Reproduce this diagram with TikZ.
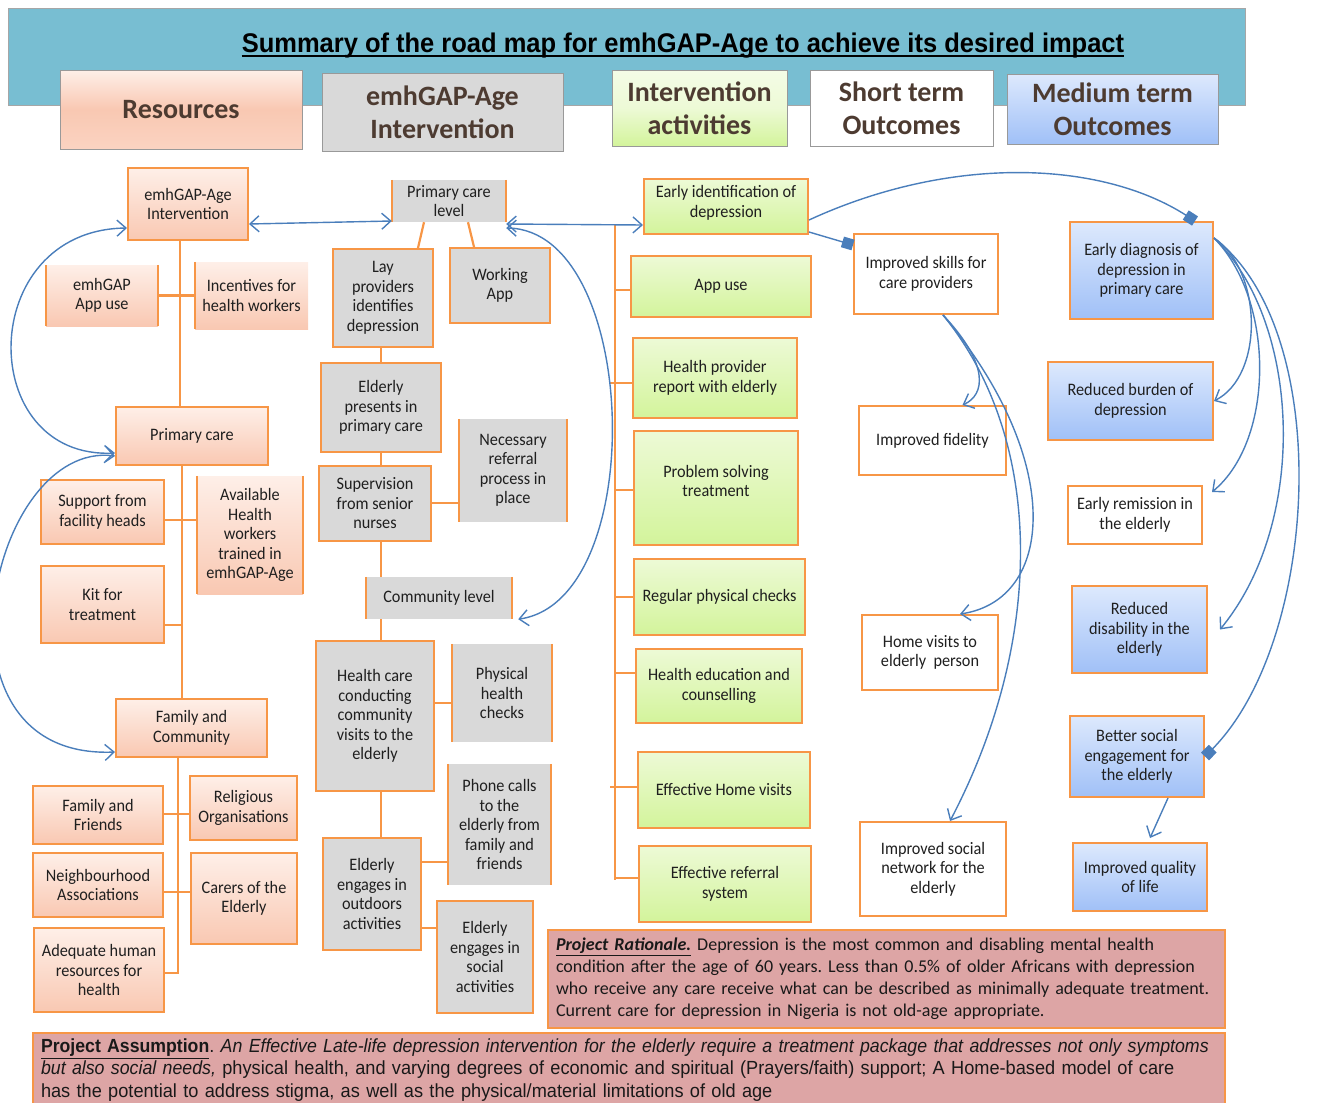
\documentclass[tikz,border=0pt]{standalone}
\usepackage{fontspec}
\setmainfont{Carlito}[FakeStretch=0.93]
\newfontfamily\hdfont{Carlito}
\newfontfamily\ttlfont{Liberation Sans}[FakeStretch=0.944]
\newfontfamily\nrwfont{Liberation Sans}[FakeStretch=0.957, ItalicFeatures={FakeStretch=0.935}, BoldFeatures={FakeStretch=0.93}]
\newfontfamily\ratfont{Carlito}
\usetikzlibrary{arrows.meta,calc}
\frenchspacing
\definecolor{org}{HTML}{F79646}
\definecolor{abl}{HTML}{4A7EBB}
\definecolor{hdblue}{HTML}{78BED2}
\definecolor{salT}{HTML}{FEEFE8}
\definecolor{salB}{HTML}{F9C8B2}
\definecolor{gryF}{HTML}{D9D9D9}
\definecolor{grnT}{HTML}{EDFAD6}
\definecolor{grnB}{HTML}{D3F49B}
\definecolor{bluT}{HTML}{DDE9FD}
\definecolor{bluB}{HTML}{A0C0F7}
\definecolor{hdtxt}{HTML}{4D3B31}
\definecolor{ratF}{HTML}{DDA5A5}
\newcommand\mybox[7]{%
  \pgfmathsetmacro\rsW{#5-#3}\pgfmathsetmacro\rsH{#6-#4}%
  \node[#2,minimum width=\rsW pt,minimum height=\rsH pt] (#1) at ({(#3+#5)/2},{(#4+#6)/2}) {#7};}
\newcommand\mybrk[1]{\draw[obrd] (#1.north west) -- (#1.south west) (#1.north east) -- (#1.south east);}
\tikzset{
  bx/.style={inner sep=1pt, align=center, font=\fontsize{17.5}{19.5}\selectfont, text=black!88},
  ob/.style={bx, draw=org, line width=2pt},
  obrd/.style={draw=org, line width=2pt},
  salm/.style={top color=salT, bottom color=salB},
  gbox/.style={fill=gryF},
  grn/.style={top color=grnT, bottom color=grnB},
  blu/.style={top color=bluT, bottom color=bluB},
  wht/.style={fill=white},
  hd/.style={draw=black!40, line width=0.8pt, align=center, inner sep=0pt,
    font=\hdfont\bfseries\fontsize{28}{33}\selectfont, text=hdtxt},
  olk/.style={draw=org, line width=2.2pt},
  dbl/.style={draw=abl, line width=1.4pt, {Straight Barb[length=9pt,width=16pt]}-{Straight Barb[length=9pt,width=16pt]}},
  arr/.style={draw=abl, line width=1.4pt, -{Straight Barb[length=9pt,width=16pt]}},
  sqa/.style={draw=abl, line width=1.4pt, -{Square[length=11pt,width=11pt]}},
}
\begin{document}
\begin{tikzpicture}[x=1pt,y=-1pt]
\useasboundingbox (0,0) rectangle (1320,1103);
% header band
\draw[black!35, fill=hdblue] (8,8) rectangle (1245,105);
\node[font=\ttlfont\bfseries\fontsize{27}{30}\selectfont, inner sep=0pt, anchor=base] (ttl) at (683,52) {Summary of the road map for emhGAP-Age to achieve its desired impact};
\draw[line width=1.8pt] ([yshift=-4pt]ttl.base west) -- ([yshift=-4pt]ttl.base east);
\mybox{hR}{hd, top color=salT, bottom color=salB!80!white, middle color=salB}{60}{70}{302}{149}{Resources}
\mybox{hE}{hd, fill=gryF}{322}{73}{563}{151}{emhGAP-Age\\Intervention}
\mybox{hA}{hd, top color=grnT!60!white, bottom color=grnB, middle color=grnT}{612}{70}{787}{146}{Intervention\\activities}
\mybox{hS}{hd, fill=white}{810}{70}{993}{146}{Short term\\Outcomes}
\mybox{hM}{hd, top color=bluT, bottom color=bluB, middle color=bluT!50!bluB}{1007}{74}{1218}{144}{Medium term\\Outcomes}

% Resources column
\mybox{emhI}{ob,salm}{128}{168}{248}{240}{emhGAP-Age\\Intervention}
\mybox{app}{bx,salm}{46}{265}{158}{326}{emhGAP\\App use}\mybrk{app}
\mybox{inc}{bx,salm}{195}{262}{308}{329}{Incentives for\\health workers}
\draw[obrd] (inc.north west) -- (inc.south west);
\mybox{pc}{ob,salm}{116}{407}{268}{465}{Primary care}
\mybox{sup}{ob,salm}{41}{480}{164}{544}{Support from\\facility heads}
\mybox{avl}{bx,salm}{197}{476}{303}{594}{Available\\Health\\workers\\trained in\\emhGAP-Age}\mybrk{avl}
\mybox{kit}{ob,salm}{41}{566}{164}{643}{Kit for\\treatment}
\mybox{fc}{ob,salm}{116}{699}{267}{757}{Family and\\Community}
\mybox{ff}{ob,salm}{33}{786}{163}{844}{Family and\\Friends}
\mybox{rel}{ob,salm}{190}{776}{297}{840}{Religious\\Organisations}
\mybox{nb}{ob,salm}{33}{853}{163}{917}{Neighbourhood\\Associations}
\mybox{car}{ob,salm}{191}{853}{297}{944}{Carers of the\\Elderly}
\mybox{adq}{ob,salm}{34}{928}{164}{1012}{Adequate human\\resources for\\health}

% Intervention column
\mybox{pcl}{bx,gbox}{392}{180}{506}{222}{Primary care\\level}\mybrk{pcl}
\mybox{lay}{ob,gbox}{333}{249}{433}{347}{Lay\\providers\\identifies\\depression}
\mybox{wap}{ob,gbox}{450}{248}{550}{323}{Working\\App}
\mybox{elp}{ob,gbox}{321}{363}{441}{452}{Elderly\\presents in\\primary care}
\mybox{supn}{ob,gbox}{319}{466}{431}{541}{Supervision\\from senior\\nurses}
\mybox{nec}{bx,gbox}{459}{419}{567}{522}{Necessary\\referral\\process in\\place}\mybrk{nec}
\mybox{cl}{bx,gbox}{366}{577}{512}{619}{Community level}\mybrk{cl}
\mybox{hcc}{ob,gbox}{316}{641}{434}{791}{Health care\\conducting\\community\\visits to the\\elderly}
\mybox{phy}{bx,gbox}{452}{644}{552}{742}{Physical\\health\\checks}\mybrk{phy}
\mybox{phn}{bx,gbox}{448}{764}{551}{885}{Phone calls\\to the\\elderly from\\family and\\friends}\mybrk{phn}
\mybox{out}{ob,gbox}{323}{838}{421}{950}{Elderly\\engages in\\outdoors\\activities}
\mybox{soc}{ob,gbox}{437}{901}{533}{1013}{Elderly\\engages in\\social\\activities}

% Activities column
\mybox{eid}{ob,grn}{644}{179}{808}{234}{Early identification of\\depression\\[-9.5pt]\mbox{}}
\mybox{au}{ob,grn}{631}{256}{811}{317}{App use}
\mybox{hp}{ob,grn}{633}{338}{797}{418}{Health provider\\report with elderly}
\mybox{ps}{ob,grn}{634}{431}{798}{545}{Problem solving\\treatment\\[-5.5pt]\mbox{}}
\mybox{reg}{ob,grn}{634}{559}{805}{635}{Regular physical checks}
\mybox{he}{ob,grn}{636}{649}{802}{723}{Health education and\\counselling}
\mybox{ehv}{ob,grn}{638}{752}{810}{828}{Effective Home visits}
\mybox{efr}{ob,grn}{639}{846}{811}{922}{Effective referral\\system}

% Short term
\mybox{isk}{ob,wht}{854}{234}{998}{314}{Improved skills for\\care providers}
\mybox{ifd}{ob,wht}{859}{406}{1006}{475}{Improved fidelity}
\mybox{hv}{ob,wht}{862}{615}{998}{690}{Home visits to\\elderly~~person}
\mybox{isn}{ob,wht}{860}{822}{1006}{916}{Improved social\\network for the\\elderly}

% Medium term
\mybox{edp}{ob,blu}{1070}{222}{1213}{319}{Early diagnosis of\\depression in\\primary care}
\mybox{rbd}{ob,blu}{1048}{362}{1213}{440}{Reduced burden of\\depression}
\mybox{erm}{ob,wht}{1068}{486}{1202}{544}{Early remission in\\the elderly}
\mybox{rdis}{ob,blu}{1072}{586}{1207}{673}{Reduced\\disability in the\\elderly}
\mybox{bse}{ob,blu}{1070}{716}{1204}{797}{Better social\\engagement for\\the elderly}
\mybox{iql}{ob,blu}{1073}{843}{1207}{911}{Improved quality\\of life}

% Bottom text boxes
\node[draw=org, fill=ratF, line width=2pt, inner xsep=8pt, inner ysep=0pt, text width=661pt, minimum height=98pt, align=left,
  font=\ratfont\fontsize{18}{22}\selectfont, text=black!90] (rat) at (886.5,979)
  {\textbf{\textit{\underline{Project Rationale.}}} Depression is the most common and disabling mental health\\
   condition after the age of 60 years. Less than 0.5\% of older Africans with depression\\
   who receive any care receive what can be described as minimally adequate treatment.\\
   Current care for depression in Nigeria is not old-age appropriate.};
\node[draw=org, fill=ratF, line width=2pt, inner xsep=8pt, inner ysep=0pt, text width=1176pt, minimum height=74pt, align=left,
  font=\nrwfont\fontsize{19}{22.5}\selectfont, text=black!90] (asm) at (629,1070)
  {\textbf{\underline{Project Assumption}}. \textit{An Effective Late-life depression intervention for the elderly require a treatment package that addresses not only symptoms}\\
   \textit{but also social needs,} physical health, and varying degrees of economic and spiritual (Prayers/faith) support; A Home-based model of care\\
   has the potential to address stigma, as well as the physical/material limitations of old age};

% Orange connectors - resources
\draw[olk] (emhI.south -| 180,0) -- (pc.north -| 180,0);
\draw[olk] (app.east) -- (inc.west);
\draw[olk] (pc.south -| 182,0) -- (fc.north -| 182,0);
\draw[olk] (sup.east |- 0,520) -- (avl.west |- 0,520);
\draw[olk] (kit.east |- 0,625) -- (182,625);
\draw[olk] (fc.south -| 178,0) -- (178,973) -- (adq.east |- 0,973);
\draw[olk] (ff.east |- 0,814) -- (rel.west |- 0,814);
\draw[olk] (nb.east |- 0,892) -- (car.west |- 0,892);
% intervention
\draw[olk] (pcl.south -| 424,0) -- (lay.north -| 418,0);
\draw[olk] (pcl.south -| 468,0) -- (wap.north -| 474,0);
\draw[olk] (lay.south -| 381,0) -- (elp.north -| 381,0);
\draw[olk] (elp.south -| 381,0) -- (supn.north -| 381,0);
\draw[olk] (supn.east |- 0,503) -- (nec.west |- 0,503);
\draw[olk] (supn.south -| 381,0) -- (cl.north -| 381,0);
\draw[olk] (cl.south -| 381,0) -- (hcc.north -| 381,0);
\draw[olk] (hcc.east |- 0,703) -- (phy.west |- 0,703);
\draw[olk] (hcc.south -| 381,0) -- (out.north -| 381,0);
\draw[olk] (out.east |- 0,862) -- (phn.west |- 0,862);
\draw[olk] (out.east |- 0,928) -- (soc.west |- 0,928);
% activities
\coordinate (gt) at (615,224);
\coordinate (gb) at (615,880);
\draw[olk] (gt) -- (gb);
\draw[olk] (gt |- 0,290) -- (au.west |- 0,290);
\draw[olk] (610,383) -- (hp.west |- 0,383);
\draw[olk] (gt |- 0,490) -- (ps.west |- 0,490);
\draw[olk] (gt |- 0,597) -- (reg.west |- 0,597);
\draw[olk] (gt |- 0,673) -- (he.west |- 0,673);
\draw[olk] (610,787) -- (ehv.west |- 0,787);
\draw[olk] (gt |- 0,878) -- (efr.west |- 0,878);

% Blue arrows
\draw[dbl] (emhI.east |- 0,224) -- (pcl.west |- 0,221);
\draw[dbl] (pcl.east |- 0,224) -- (eid.west |- 0,225);
\draw[dbl] (pcl.east |- 0,228) .. controls (640,230) and (650,600) .. ([xshift=6pt]cl.south east);
\draw[dbl] (emhI.west |- 0,228) .. controls (-25,230) and (-25,460) .. (pc.west |- 0,453);
\draw[dbl] (pc.west |- 0,456) .. controls (-10,440) and (-80,760) .. (fc.west |- 0,752);
\draw[sqa] (eid.east |- 0,220) .. controls (950,155) and (1100,160) .. ([xshift=-19pt]edp.north east);
\draw[sqa] (eid.east |- 0,232) -- (isk.west |- 0,245);
\coordinate (iskb) at ([xshift=17pt]isk.south);
\draw[arr] (iskb) .. controls (990,365) and (985,395) .. ([xshift=30pt]ifd.north);
\draw[arr] (iskb) .. controls (1065,460) and (1055,600) .. ([xshift=30pt]hv.north);
\draw[arr] (iskb) .. controls (1045,440) and (1045,640) .. ([xshift=17pt]isn.north);
\coordinate (edpr) at (edp.east |- 0,238);
\draw[arr] (edpr) .. controls (1262,270) and (1265,375) .. (rbd.east);
\draw[arr] (edpr) .. controls (1275,300) and (1275,440) .. ([xshift=9pt,yshift=-7pt]erm.north east);
\draw[arr] (edpr) .. controls (1300,320) and (1310,520) .. ([xshift=12pt]rdis.east);
\draw[sqa] (edpr) .. controls (1335,330) and (1320,640) .. (bse.east);
\draw[arr] ([xshift=31pt]bse.south) -- ([xshift=10pt,yshift=4pt]iql.north);
\end{tikzpicture}
\end{document}
